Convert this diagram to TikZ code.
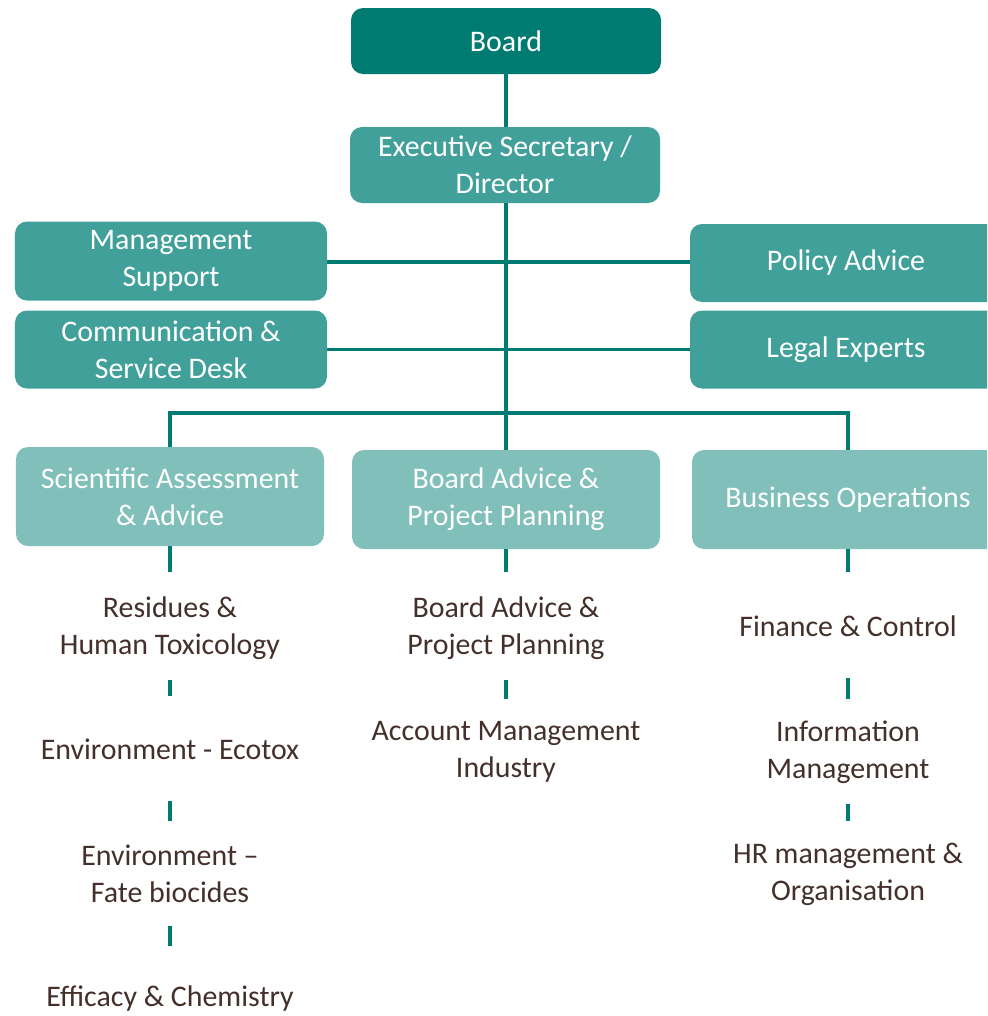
\documentclass[tikz,border=0pt]{standalone}
\usepackage{fontspec}
\setmainfont{Carlito}
\usetikzlibrary{backgrounds}
\definecolor{tealdark}{HTML}{007B72}
\definecolor{tealmid}{HTML}{42A09A}
\definecolor{teallight}{HTML}{80BFBA}
\definecolor{unitbrown}{HTML}{44302B}

\begin{document}
\begin{tikzpicture}[
  box/.style={rectangle, rounded corners=0.24cm, text=white, align=center, inner sep=0pt,
    font=\fontsize{17}{21}\selectfont},
  unit/.style={align=center, text=unitbrown, font=\fontsize{17}{21}\selectfont},
  link/.style={draw=tealdark, line width=2.2pt},
  tick/.style={link, shorten <=1.04cm, shorten >=1.07cm}]
  \useasboundingbox (0,0) rectangle (19.74,-20.32);
  \clip (0,0) rectangle (19.74,-20.32);

  % top of the chart
  \node [box, fill=tealdark, minimum width=6.2cm, minimum height=1.32cm] (board) at (10.12cm, -0.82cm) {Board};
  \node [box, fill=tealmid, minimum width=6.2cm, minimum height=1.52cm] (exec) at (10.1cm, -3.3cm) {Executive Secretary /\\Director};
  \node [box, fill=tealmid, minimum width=6.24cm, minimum height=1.58cm] (mgmt) at (3.42cm, -5.22cm) {Management\\Support};
  \node [box, fill=tealmid, minimum width=6.24cm, minimum height=1.56cm] (comm) at (3.42cm, -6.99cm) {Communication \&\\Service Desk};
  \node [box, fill=tealmid, minimum width=6.24cm, minimum height=1.56cm] (policy) at (16.92cm, -5.26cm) {Policy Advice};
  \node [box, fill=tealmid, minimum width=6.24cm, minimum height=1.56cm] (legal) at (16.92cm, -6.99cm) {Legal Experts};

  % departments
  \node [box, fill=teallight, minimum width=6.16cm, minimum height=1.98cm] (sci) at (3.4cm, -9.93cm) {Scientific Assessment\\\& Advice};
  \node [box, fill=teallight, minimum width=6.16cm, minimum height=1.98cm] (bap) at (10.12cm, -9.99cm) {Board Advice \&\\Project Planning};
  \node [box, fill=teallight, minimum width=6.24cm, minimum height=1.98cm] (biz) at (16.96cm, -9.99cm) {Business Operations};
  \coordinate (bus) at (10.12cm, -8.26cm);

  % units
  \node [unit] (res) at (3.4cm, -12.56cm) {Residues \&\\Human Toxicology};
  \node [unit] (eco) at (3.4cm, -14.98cm) {Environment - Ecotox};
  \node [unit] (fate) at (3.4cm, -17.48cm) {Environment –\\Fate biocides};
  \node [unit] (eff) at (3.4cm, -19.98cm) {Efficacy \& Chemistry};
  \node [unit] (bapt) at (10.12cm, -12.56cm) {Board Advice \&\\Project Planning};
  \node [unit] (acc) at (10.12cm, -15.04cm) {Account Management\\Industry};
  \node [unit] (fin) at (16.96cm, -12.52cm) {Finance \& Control};
  \node [unit] (info) at (16.96cm, -15.04cm) {Information\\Management};
  \node [unit] (hr) at (16.96cm, -17.48cm) {HR management \&\\Organisation};

  \begin{scope}[on background layer]
    \draw [link] (board) -- (bap);
    \draw [link] (mgmt.east |- 0,-5.24) -- (policy.west |- 0,-5.24);
    \draw [link] (comm) -- (legal);
    \draw [link] (sci.north) |- (bus) -| (biz.north);
  \end{scope}
  \draw [link] (sci.south) -- ++(0,-0.52);
  \draw [link] (bap.south) -- ++(0,-0.46);
  \draw [link] (biz.south) -- ++(0,-0.46);
  \draw [tick] (res.center) -- (eco.center);
  \draw [tick] (eco.center) -- (fate.center);
  \draw [tick] (fate.center) -- (eff.center);
  \draw [tick] (bapt.center) -- (acc.center);
  \draw [tick] (fin.center) -- (info.center);
  \draw [tick] (info.center) -- (hr.center);
\end{tikzpicture}
\end{document}
